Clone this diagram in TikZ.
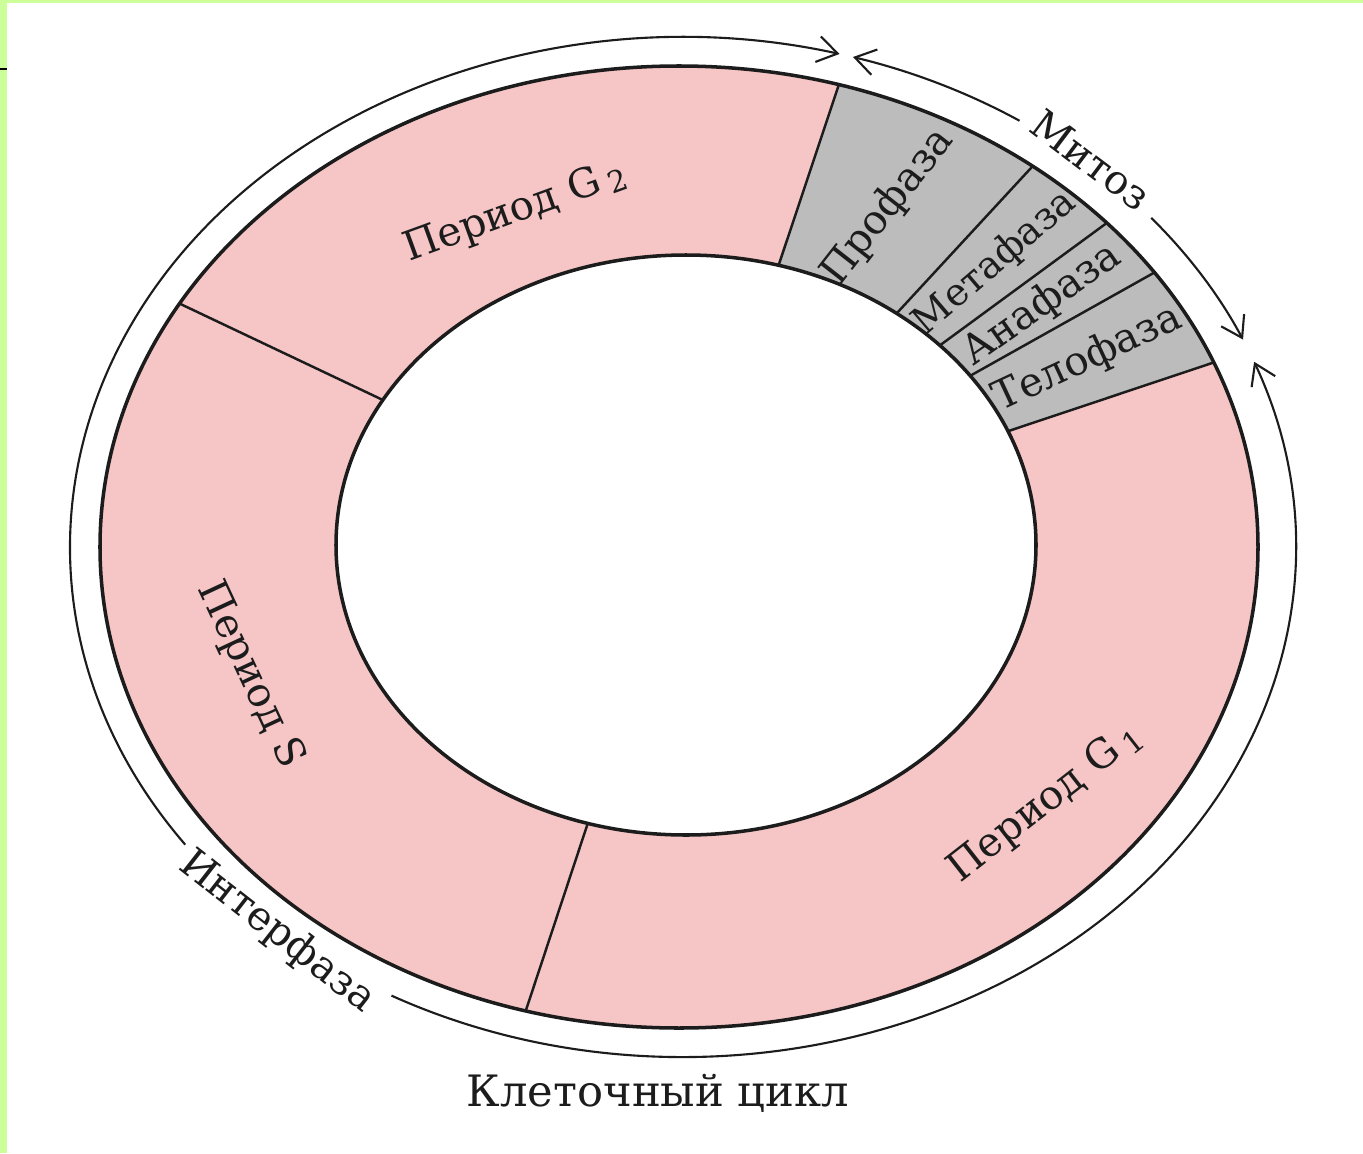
\documentclass[tikz,border=0pt]{standalone}
\usepackage{fontspec}
\setmainfont{DejaVu Serif}
\usetikzlibrary{arrows.meta,calc}
\definecolor{ringpink}{RGB}{246,198,198}
\definecolor{mitgray}{RGB}{188,188,188}
\definecolor{framegreen}{RGB}{204,255,153}
\definecolor{ink}{RGB}{28,28,28}
\newcommand{\subidx}[1]{\,\raisebox{-0.3ex}{\fontsize{8.5}{9}\selectfont #1}}
\begin{document}
\begin{tikzpicture}[x=0.01cm,y=0.01cm,
  lbl/.style={font=\fontsize{11.5}{13}\selectfont, text=ink, inner sep=0pt},
  bound/.style={draw=ink, line width=1pt},
  divider/.style={draw=ink, line width=0.7pt},
  span/.style={draw=ink, line width=0.6pt},
  spantip/.style={-{Straight Barb[length=2mm,width=2.6mm,line width=0.6pt]}}]
\useasboundingbox (0,0) rectangle (1363,1153);
\fill[white] (0,0) rectangle (1363,1153);
\fill[framegreen] (0,1150) rectangle (1363,1153);
\fill[framegreen] (0,0) rectangle (7,1153);
\draw[black, line width=0.8pt] (0,1084) -- (7,1084);
% centres
\coordinate (T) at (683,606);
\coordinate (O) at (679,606);
\coordinate (I) at (686,608);
% end points of dividers
\coordinate (o1) at ($(O)+(149.6:579 and 481)$);
\coordinate (i1) at ($(I)+(150:350 and 290)$);
\coordinate (o2) at ($(O)+(254.65:579 and 481)$);
\coordinate (i2) at ($(I)+(253.7:350 and 290)$);
\coordinate (o3) at ($(O)+(73.97:579 and 481)$);
\coordinate (i3) at ($(I)+(74.66:350 and 290)$);
\coordinate (o4) at ($(O)+(52.35:579 and 481)$);
\coordinate (i4) at ($(I)+(53:350 and 290)$);
\coordinate (o5) at ($(O)+(42.36:579 and 481)$);
\coordinate (i5) at ($(I)+(43.5:350 and 290)$);
\coordinate (o6) at ($(O)+(34.8:579 and 481)$);
\coordinate (i6) at ($(I)+(35.7:350 and 290)$);
\coordinate (o7) at ($(O)+(22.56:579 and 481)$);
\coordinate (i7) at ($(I)+(23.1:350 and 290)$);
% ring
\fill[ringpink, even odd rule] (O) ellipse [x radius=579, y radius=481]
  (I) ellipse [x radius=350, y radius=290];
\fill[mitgray] (o7) arc[start angle=22.56, end angle=73.97, x radius=579, y radius=481]
  -- (i3) arc[start angle=74.66, end angle=23.1, x radius=350, y radius=290] -- cycle;
\draw[bound] (O) ellipse [x radius=579, y radius=481];
\draw[bound] (I) ellipse [x radius=350, y radius=290];
\draw[divider] (o1) -- (i1);
\draw[divider] (o2) -- (i2);
\draw[divider] (o3) -- (i3);
\draw[divider] (o4) -- (i4);
\draw[divider] (o5) -- (i5);
\draw[divider] (o6) -- (i6);
\draw[divider] (o7) -- (i7);
% outer spans
\coordinate (a1) at ($(T)+(215.7:613 and 510)$);
\coordinate (a2) at ($(T)+(241.6:613 and 510)$);
\coordinate (m1) at ($(T)+(56.7:613 and 510)$);
\coordinate (m2) at ($(T)+(40.2:613 and 510)$);
\draw[span, spantip] (a1) arc[start angle=215.7, end angle=75.2, x radius=613, y radius=510];
\draw[span, spantip] (a2) arc[start angle=241.6, end angle=381.3, x radius=613, y radius=510];
\draw[span, spantip] (m1) arc[start angle=56.7, end angle=73.9, x radius=613, y radius=510];
\draw[span, spantip] (m2) arc[start angle=40.2, end angle=24, x radius=613, y radius=510];
% labels
\node[lbl, rotate=20] (g2) at (515,941) {Период G\subidx{2}};
\node[lbl, rotate=-65] (sp) at (250,478) {Период S};
\node[lbl, rotate=38] (g1) at (1045,350) {Период G\subidx{1}};
\node[lbl, rotate=52] (pro) at (888,946) {Профаза};
\node[lbl, rotate=40.5, font=\fontsize{10.8}{12}\selectfont] (meta) at (995,890) {Метафаза};
\node[lbl, rotate=35] (ana) at (1042,848) {Анафаза};
\node[lbl, rotate=25] (telo) at (1088,794) {Телофаза};
\node[lbl, rotate=-37] (mit) at (1091,993) {Митоз};
\node[lbl, rotate=-38] (inter) at (277,221) {Интерфаза};
\node[lbl, font=\fontsize{12.3}{14}\selectfont] (cycle) at (658,60) {Клеточный цикл};
\end{tikzpicture}
\end{document}
